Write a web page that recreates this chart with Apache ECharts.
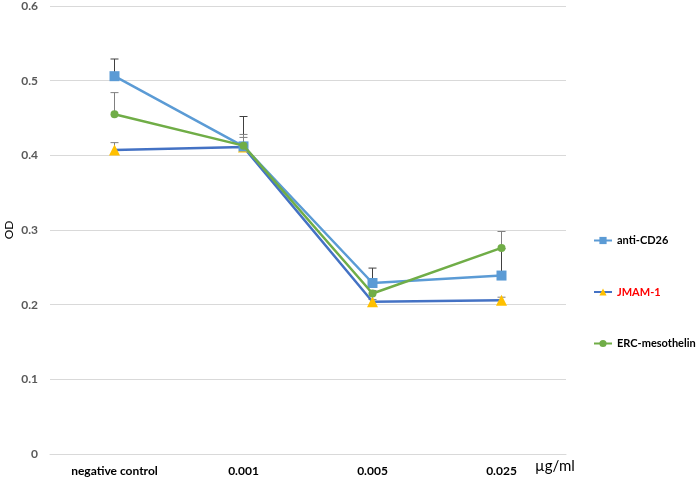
<!DOCTYPE html>
<html><head><meta charset="utf-8">
<script src="https://cdn.jsdelivr.net/npm/echarts@6/dist/echarts.min.js"></script>
<style>html,body{margin:0;padding:0;background:#fff}#c{width:700px;height:481px}</style>
</head><body><div id="c"></div>
<script>
var categories = ['negative control', '0.001', '0.005', '0.025'];
var antiCD26 = [0.506, 0.412, 0.229, 0.239];
var antiCD26Err = [0.023, 0.040, 0.020, 0.036];
var jmam1 = [0.407, 0.411, 0.204, 0.206];
var jmam1Err = [0.010, 0.013, 0.003, 0.004];
var erc = [0.455, 0.413, 0.215, 0.276];
var ercErr = [0.029, 0.015, 0.004, 0.022];
var yTicks = [0, 0.1, 0.2, 0.3, 0.4, 0.5, 0.6];

var chart = echarts.init(document.getElementById('c'));
function errSeries(vals, errs, color) {
  return {
    type: 'custom', silent: true, z: 1,
    data: vals.map(function (v, i) { return [i, v, v + errs[i]]; }),
    renderItem: function (params, api) {
      var p0 = api.coord([api.value(0), api.value(1)]);
      var p1 = api.coord([api.value(0), api.value(2)]);
      return { type: 'group', children: [
        { type: 'line', shape: { x1: p0[0], y1: p0[1], x2: p1[0], y2: p1[1] }, style: { stroke: color, lineWidth: 1 } },
        { type: 'line', shape: { x1: p1[0] - 4, y1: p1[1], x2: p1[0] + 4, y2: p1[1] }, style: { stroke: color, lineWidth: 1 } }
      ]};
    }
  };
}
chart.setOption({
  animation: false,
  grid: { left: 50, right: 134, top: 6, bottom: 27, containLabel: false, outerBoundsMode: 'none' },
  legend: {
    orient: 'vertical', left: 588, top: 230, itemGap: 40.5, itemWidth: 18, itemHeight: 9,
    data: ['anti-CD26', 'JMAM-1', 'ERC-mesothelin'],
    textStyle: { fontFamily: 'Lato', fontWeight: 'bold', fontSize: 11, color: '#000',
      rich: { r: { color: '#FF0000', fontWeight: 'bold', fontSize: 11, fontFamily: 'Lato' } } },
    formatter: function (n) { return n === 'JMAM-1' ? '{r|' + n + '}' : n; }
  },
  xAxis: {
    type: 'category', data: categories, boundaryGap: true,
    name: 'µg/ml', nameLocation: 'end', nameGap: -31,
    nameTextStyle: { fontFamily: 'Lato', fontSize: 15, color: '#000', verticalAlign: 'top', align: 'left', padding: [5, 0, 0, 0] },
    axisLine: { lineStyle: { color: '#d9d9d9' } }, axisTick: { show: false },
    axisLabel: { fontFamily: 'Lato', fontWeight: 'bold', fontSize: 12, color: '#000', margin: 11 }
  },
  yAxis: {
    type: 'value', min: 0, max: 0.6, interval: 0.1,
    name: 'OD', nameLocation: 'middle', nameGap: 35, nameMoveOverlap: false,
    nameTextStyle: { fontFamily: 'Lato', fontSize: 12, color: '#000' },
    axisLine: { show: false }, axisTick: { show: false },
    splitLine: { lineStyle: { color: '#d9d9d9' } },
    axisLabel: { fontFamily: 'Lato', fontWeight: 'bold', fontSize: 12, color: '#595959', margin: 12,
      formatter: function (v) { var r = Math.round(v * 10) / 10; return yTicks.indexOf(r) >= 0 ? String(r) : ''; } }
  },
  series: [
    errSeries(antiCD26, antiCD26Err, '#404040'),
    errSeries(jmam1, jmam1Err, '#808080'),
    errSeries(erc, ercErr, '#808080'),
    { name: 'anti-CD26', type: 'line', data: antiCD26, symbol: 'rect', symbolSize: 10, z: 3,
      lineStyle: { color: '#5B9BD5', width: 2.5 }, itemStyle: { color: '#5B9BD5' } },
    { name: 'JMAM-1', type: 'line', data: jmam1, symbol: 'triangle', symbolSize: 11, z: 2,
      lineStyle: { color: '#4472C4', width: 2.5 }, itemStyle: { color: '#FFC000' } },
    { name: 'ERC-mesothelin', type: 'line', data: erc, symbol: 'circle', symbolSize: 8, z: 4,
      lineStyle: { color: '#70AD47', width: 2.5 }, itemStyle: { color: '#70AD47' } }
  ]
});
</script></body></html>
